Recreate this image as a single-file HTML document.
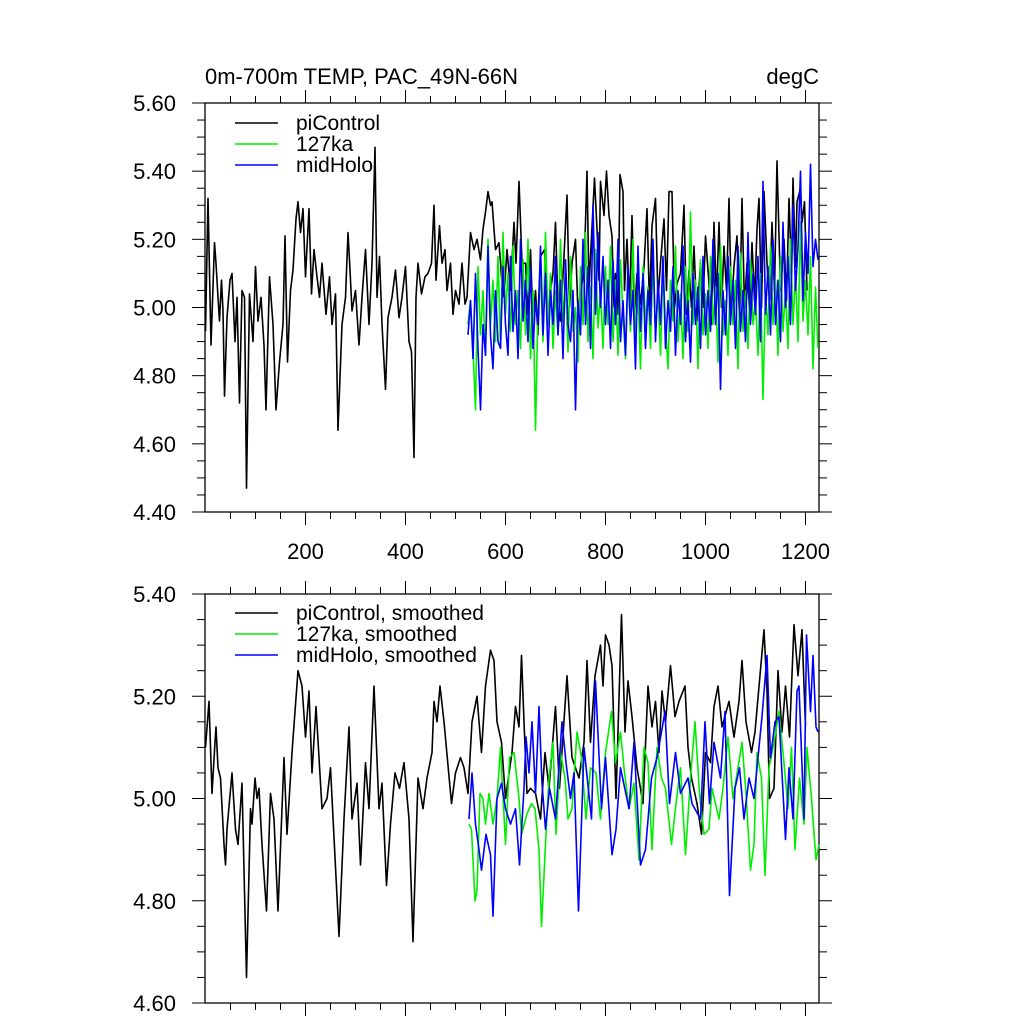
<!DOCTYPE html>
<html><head><meta charset="utf-8"><style>
html,body{margin:0;padding:0;background:#fff;}
svg{display:block;font-family:"Liberation Sans",Arial,sans-serif;}
</style></head><body>
<svg id="chart" width="1024" height="1024" viewBox="0 0 1024 1024" xmlns="http://www.w3.org/2000/svg">
<text x="205" y="84" font-size="22" fill="#000">0m-700m TEMP, PAC_49N-66N</text>
<text x="819" y="84" font-size="22" text-anchor="end" fill="#000">degC</text>
<g id="top"></g>
<g id="bot"></g>
</svg>
<script>
// ---- data ----
const topYTicks = [4.40,4.60,4.80,5.00,5.20,5.40,5.60];
const botYTicks = [4.60,4.80,5.00,5.20,5.40];
const xTicks = [200,400,600,800,1000,1200];
const legendTop = ["piControl","127ka","midHolo"];
const legendBot = ["piControl, smoothed","127ka, smoothed","midHolo, smoothed"];
const colors = ["#000000","#00ee00","#0000ff"];

const piControlRaw = [[0,4.93],[5,5.32],[11,4.89],[18,5.19],[21,5.13],[25,5.03],[28,4.96],[32,5.08],[35,4.99],[38,4.74],
[43,4.97],[49,5.08],[53,5.10],[59,4.90],[63,5.03],[68,4.72],[73,5.05],[78,5.03],[82,4.47],[88,5.04],
[95,4.90],[100,5.12],[105,4.96],[111,5.03],[117,4.89],[121,4.70],[128,5.09],[135,4.95],[141,4.70],[148,4.84],
[155,4.95],[159,5.21],[164,4.84],[170,5.05],[175,5.11],[181,5.26],[185,5.31],[190,5.22],[195,5.29],[200,5.09],
[207,5.29],[212,5.04],[217,5.17],[223,5.09],[228,5.03],[233,5.13],[241,4.98],[248,5.09],[253,4.95],[260,5.04],
[265,4.64],[273,4.95],[280,5.03],[285,5.22],[289,5.11],[293,4.99],[300,5.05],[307,4.89],[313,5.03],[320,5.17],
[327,4.95],[333,5.13],[339,5.47],[343,5.03],[348,5.15],[353,4.95],[360,4.76],[365,4.97],[373,5.03],[380,5.11],
[387,4.97],[393,5.03],[400,5.12],[407,4.90],[412,4.87],[417,4.56],[421,5.03],[425,5.13],[432,5.04],[439,5.09],
[445,5.10],[452,5.13],[457,5.30],[461,5.08],[468,5.24],[473,5.13],[479,5.17],[483,5.05],[490,5.13],[495,4.98],
[500,5.05],[507,5.01],[513,5.13],[519,5.01],[523,5.03],[530,5.22],[537,5.17],[543,5.20],[550,5.14],[555,5.23],
[560,5.28],[565,5.34],[570,5.30],[573,5.31],[580,5.17],[587,5.19],[592,5.09],[597,5.03],[603,5.17],[610,5.05],
[617,5.25],[621,5.13],[627,5.37],[633,5.13],
[640,5.13],[645,4.98],[650,5.17],[655,4.95],[660,5.05],[665,4.92],[670,5.15],[678,5.17],[684,4.96],[690,5.05],
[695,5.10],[700,5.25],[705,5.00],[710,4.96],[716,5.12],[723,5.33],[728,5.00],[733,5.13],[740,5.20],[745,4.98],
[750,5.05],[757,5.10],[763,5.40],[767,5.05],[770,5.15],[778,5.38],[783,5.23],[787,5.08],[790,5.37],[797,5.27],
[802,5.40],[807,5.27],[813,5.21],[817,5.00],[820,5.10],[825,4.98],[829,5.39],[835,5.34],[838,5.05],[843,5.20],
[848,5.00],[853,5.27],[858,4.98],[863,5.10],[870,5.01],[877,5.12],[883,5.29],[888,5.00],[893,5.24],[900,5.32],
[905,5.02],[910,5.13],[917,5.26],[922,5.05],[927,5.34],[933,5.34],[938,5.00],[943,5.07],[950,5.10],[957,5.30],
[962,4.98],[967,5.11],[972,5.00],[977,5.18],[983,4.96],[990,5.13],[995,5.00],[1000,5.21],[1007,5.07],[1012,4.95],
[1017,5.25],[1022,5.02],[1027,5.25],[1032,5.00],[1037,5.18],[1042,5.05],[1047,5.32],[1052,5.00],[1057,5.12],[1063,5.21],
[1068,4.95],[1073,5.32],[1078,5.00],[1083,5.13],[1088,4.98],[1093,5.19],[1098,5.02],[1103,5.23],[1107,5.32],[1112,5.00],
[1117,5.34],[1123,5.13],[1128,5.02],[1133,5.25],[1138,5.05],[1143,5.43],[1150,5.05],[1157,5.20],[1162,5.02],[1167,5.32],
[1172,5.10],[1175,5.38],[1180,5.12],[1183,5.31],[1190,5.35],[1193,5.25],[1198,5.31],[1203,5.05]];

const simStartYear = 525;
const simStep = 5;
const ka127Raw = [4.95,5.02,4.88,4.70,5.12,4.92,5.05,4.86,5.20,4.95,5.08,4.90,5.15,4.88,5.22,4.98,
5.10,4.93,5.18,4.95,5.05,4.88,5.14,4.92,5.20,4.85,5.05,4.64,5.00,5.12,4.90,5.22,4.95,5.10,4.88,5.05,
4.92,5.20,4.96,5.08,4.87,5.15,4.93,5.00,4.84,5.12,4.95,5.22,4.90,5.06,4.85,5.17,4.94,5.05,4.88,5.12,
4.95,5.18,4.90,5.08,4.86,5.14,4.98,4.85,5.10,4.93,5.20,4.89,5.05,4.82,5.12,4.95,5.06,4.88,5.15,4.92,
5.05,4.86,5.12,4.95,4.82,5.08,4.96,5.18,4.90,5.04,4.85,5.12,4.93,5.28,4.95,5.08,4.82,5.14,4.92,5.04,
4.88,5.15,4.95,5.06,4.84,5.18,4.92,5.02,4.86,5.12,4.95,5.08,4.82,5.16,4.93,5.05,4.88,5.14,4.95,5.02,
4.86,5.10,4.73,5.05,4.92,5.18,4.95,5.08,4.86,5.15,4.93,5.05,4.88,5.20,4.95,5.10,4.90,5.25,4.96,5.08,
4.92,5.15,4.82,5.06,4.88];
const midHoloRaw = [4.92,5.02,4.85,5.10,4.88,4.70,4.95,4.86,5.18,4.92,4.82,5.05,4.90,4.88,5.12,4.95,
4.86,5.15,4.93,5.05,4.85,5.20,4.96,5.08,4.90,5.12,4.88,5.02,4.95,5.18,4.92,5.10,4.86,5.05,4.95,5.15,
4.92,5.08,4.85,5.14,4.95,4.90,5.05,4.70,5.02,4.92,5.20,4.95,5.12,4.88,5.30,4.98,5.22,5.00,5.15,4.95,
5.08,4.88,5.14,4.95,5.20,4.90,5.02,4.86,5.12,4.95,5.05,4.82,5.18,4.93,5.10,4.88,5.05,4.95,5.20,4.90,
5.08,4.95,5.15,4.88,5.02,4.93,5.12,4.86,5.05,4.95,5.18,4.90,5.02,4.84,5.10,4.95,5.06,4.88,5.15,4.92,
5.05,4.93,5.20,4.95,5.10,4.76,5.05,4.92,5.15,4.95,5.08,4.88,5.18,4.93,5.05,4.90,5.22,4.95,5.10,4.98,
5.15,4.90,5.37,4.98,5.12,4.92,5.20,4.95,5.08,4.90,5.25,5.00,5.15,4.95,5.30,5.05,5.18,5.40,5.02,5.22,
5.10,5.42,5.12,5.20,5.14];

const piControlSmooth = [[0,5.10],[7,5.19],[13,5.01],[19,5.11],[21,5.14],[25,5.06],[30,5.04],[37,4.91],[40,4.87],[43,4.94],
[53,5.05],[60,4.94],[65,4.91],[73,5.03],[82,4.65],[90,4.98],[93,4.95],[99,5.04],[103,5.00],[107,5.02],
[113,4.91],[122,4.78],[130,5.01],[137,4.96],[145,4.78],[157,5.08],[163,4.93],[173,5.09],[185,5.25],[193,5.22],
[200,5.12],[207,5.21],[213,5.05],[221,5.18],[233,4.98],[243,5.00],[250,5.06],[267,4.73],[277,4.96],[287,5.14],
[293,4.96],[303,5.03],[310,4.87],[320,5.07],[327,4.98],[337,5.22],[347,4.98],[353,5.03],[362,4.83],[370,4.95],
[379,5.05],[388,5.02],[397,5.07],[407,4.96],[415,4.72],[425,5.04],[435,4.98],[443,5.04],[453,5.09],[457,5.19],
[463,5.15],[469,5.22],[477,5.15],[492,4.99],[500,5.05],[510,5.08],[517,5.06],[525,5.01],[533,5.15],[543,5.20],
[552,5.09],[560,5.22],[570,5.29],[577,5.27],[583,5.15],[592,5.11],[600,5.00],[613,5.09],[620,5.18],[627,5.14],
[632,5.28],[637,5.15],[643,5.01],[650,5.02],[660,5.01],[670,4.96],[679,5.09],[687,5.02],[700,5.18],[708,5.02],
[723,5.24],[733,5.08],[747,5.04],[757,5.11],[763,5.27],[770,5.11],[779,5.24],[790,5.30],[795,5.22],[800,5.32],
[807,5.30],[813,5.26],[821,5.00],[832,5.36],[839,5.13],[845,5.23],[853,5.16],[863,5.06],[875,4.99],[885,5.22],
[893,5.14],[900,5.19],[907,5.09],[913,5.21],[920,5.15],[930,5.26],[939,5.16],[947,5.19],[959,5.22],[965,5.10],
[972,5.04],[983,4.99],[992,4.93],[1000,5.09],[1010,5.07],[1017,5.18],[1025,5.22],[1033,5.14],[1047,5.19],[1057,5.12],
[1067,5.19],[1073,5.27],[1081,5.15],[1092,5.09],[1099,5.13],[1108,5.23],[1117,5.33],[1123,5.21],[1128,5.00],[1137,5.02],
[1145,5.25],[1153,5.13],[1160,5.22],[1168,5.12],[1177,5.34],[1185,5.24],[1193,5.33],[1200,5.14]];

const ka127Smooth = [[527,4.95],[532,4.94],[539,4.80],[543,4.82],[549,5.01],[555,5.00],[560,4.95],[567,5.01],[575,4.95],[583,5.00],
[590,5.10],[600,4.91],[608,5.08],[617,5.09],[627,5.00],[632,4.93],[643,4.97],[652,4.99],[659,4.98],[667,4.90],
[672,4.75],[680,4.91],[687,5.04],[695,5.11],[701,4.93],[710,5.09],[719,5.04],[725,4.96],[733,4.98],[743,5.13],
[752,5.08],[761,4.96],[770,5.06],[781,5.05],[790,4.96],[800,5.09],[812,5.17],[820,5.07],[830,5.13],[837,5.06],
[847,4.98],[857,5.03],[867,4.88],[877,5.10],[885,5.07],[893,4.90],[903,5.10],[912,5.04],[920,5.02],[932,4.91],
[941,4.99],[950,5.06],[960,4.89],[970,5.04],[979,5.15],[988,5.01],[997,4.93],[1007,4.94],[1013,5.02],[1027,4.96],
[1035,5.02],[1045,5.12],[1055,5.00],[1065,5.06],[1073,5.11],[1081,5.01],[1090,4.86],[1097,4.91],[1103,5.09],[1112,5.04],
[1119,4.85],[1127,5.06],[1137,5.11],[1147,5.17],[1157,5.07],[1165,4.98],[1172,5.10],[1179,4.90],[1188,5.04],[1197,4.95],
[1203,5.10],[1212,5.00],[1221,4.88],[1227,4.91]];

const midHoloSmooth = [[527,4.96],[533,5.05],[540,4.95],[547,4.90],[552,4.86],[561,4.93],[570,4.89],[575,4.77],[583,5.00],[592,5.03],
[600,4.98],[610,4.95],[620,4.98],[628,4.87],[637,5.02],[641,5.12],[647,5.05],[653,5.15],[660,5.01],[667,5.18],
[673,5.03],[680,4.94],[688,5.02],[700,4.96],[713,5.15],[721,5.07],[730,5.00],[737,5.05],[746,4.78],[757,5.10],
[772,4.96],[780,5.23],[792,4.98],[800,5.08],[813,4.89],[821,4.94],[830,5.06],[847,4.98],[857,5.11],[870,4.87],
[880,4.90],[892,5.04],[903,5.08],[919,5.17],[928,4.99],[940,5.09],[950,5.01],[965,5.04],[973,4.99],[990,4.96],
[999,5.15],[1008,4.99],[1017,5.11],[1030,5.04],[1039,5.17],[1048,4.81],[1059,5.02],[1068,5.06],[1077,4.96],[1087,5.04],
[1097,5.00],[1113,5.16],[1123,5.28],[1130,5.08],[1139,5.15],[1147,5.16],[1160,4.92],[1167,5.06],[1175,4.96],[1183,5.21],
[1187,5.22],[1197,4.96],[1202,5.32],[1210,5.17],[1215,5.28],[1221,5.14],[1225,5.13]];

// ---- axes ----
const NS = "http://www.w3.org/2000/svg";
const X0 = 205, X1 = 819;
function xs(yr){ return 205.5 + yr * 0.5; }
function mkY(top, bottom, vmin, vmax){ return v => bottom - (v - vmin) / (vmax - vmin) * (bottom - top); }
const panels = {
  top:{g:document.getElementById('top'), y0:103, y1:512, vmin:4.4, vmax:5.6, yt:mkY(103,512,4.4,5.6), yticks:topYTicks, labels:true, legend:legendTop, ly:123},
  bot:{g:document.getElementById('bot'), y0:594, y1:1003, vmin:4.6, vmax:5.4, yt:mkY(594,1003,4.6,5.4), yticks:botYTicks, labels:false, legend:legendBot, ly:613}
};
function el(tag, attrs, parent){ const e=document.createElementNS(NS,tag); for(const k in attrs) e.setAttribute(k,attrs[k]); parent.appendChild(e); return e; }
function pathFromPairs(pairs, yt){ return pairs.map((p,i)=>(i?'L':'M')+xs(p[0]).toFixed(1)+','+yt(p[1]).toFixed(1)).join(''); }
function pairsFromRegular(vals){ return vals.map((v,i)=>[simStartYear+i*simStep, v]); }

function drawSeries(P, pairs, color, name){
  const p = el('path',{d:pathFromPairs(pairs,P.yt),fill:'none',stroke:color,'stroke-width':1.6,'stroke-linejoin':'round'},P.g);
  
  
}

function drawAxes(P, key){
  const g = P.g;
  const fr = el('rect',{x:X0,y:P.y0,width:X1-X0,height:P.y1-P.y0,fill:'none',stroke:'#000','stroke-width':1.3},g);
  
  
  for(let yr=50; yr<=1200; yr+=50){
    const major = yr%200===0; const L = major?13:7; const x = xs(yr);
    const t1 = el('line',{x1:x,x2:x,y1:P.y0,y2:P.y0-L,stroke:'#000','stroke-width':1},g);
    
    
    const t2 = el('line',{x1:x,x2:x,y1:P.y1,y2:P.y1+L,stroke:'#000','stroke-width':1},g);
    
    
  }
  if(P.labels){
    xTicks.forEach(v=>{
      const t = el('text',{x:xs(v),y:559,'font-size':22,'text-anchor':'middle'},g);
      t.textContent = String(v);
      
      
    });
  }
  const nMinor = Math.round((P.vmax-P.vmin)/0.05);
  for(let i=0;i<=nMinor;i++){
    const v = P.vmin + i*0.05; const major = i%4===0; const L = major?13:8; const y = P.yt(v);
    const a = el('line',{x1:X0,x2:X0-L,y1:y,y2:y,stroke:'#000','stroke-width':1},g);
    
    
    const b = el('line',{x1:X1,x2:X1+L,y1:y,y2:y,stroke:'#000','stroke-width':1},g);
    
    
  }
  P.yticks.forEach(v=>{
    const t = el('text',{x:176,y:P.yt(v)+8,'font-size':22,'text-anchor':'end'},g);
    t.textContent = v.toFixed(2);
    
    
  });
}

function drawLegend(P){
  P.legend.forEach((lab,i)=>{
    const y = P.ly + i*21;
    const l = el('line',{x1:235,x2:278,y1:y,y2:y,stroke:colors[i],'stroke-width':1.6},P.g);
    
    
    const t = el('text',{x:296,y:y+7,'font-size':21},P.g);
    t.textContent = lab;
    
    
  });
}

drawAxes(panels.top,'top');
drawSeries(panels.top, piControlRaw, colors[0], 'picontrol-line');
drawSeries(panels.top, pairsFromRegular(ka127Raw), colors[1], '127ka-line');
drawSeries(panels.top, pairsFromRegular(midHoloRaw), colors[2], 'midholo-line');
drawLegend(panels.top);

drawAxes(panels.bot,'bottom');
drawSeries(panels.bot, piControlSmooth, colors[0], 'picontrol-smoothed-line');
drawSeries(panels.bot, ka127Smooth, colors[1], '127ka-smoothed-line');
drawSeries(panels.bot, midHoloSmooth, colors[2], 'midholo-smoothed-line');
drawLegend(panels.bot);
</script>
</body></html>
